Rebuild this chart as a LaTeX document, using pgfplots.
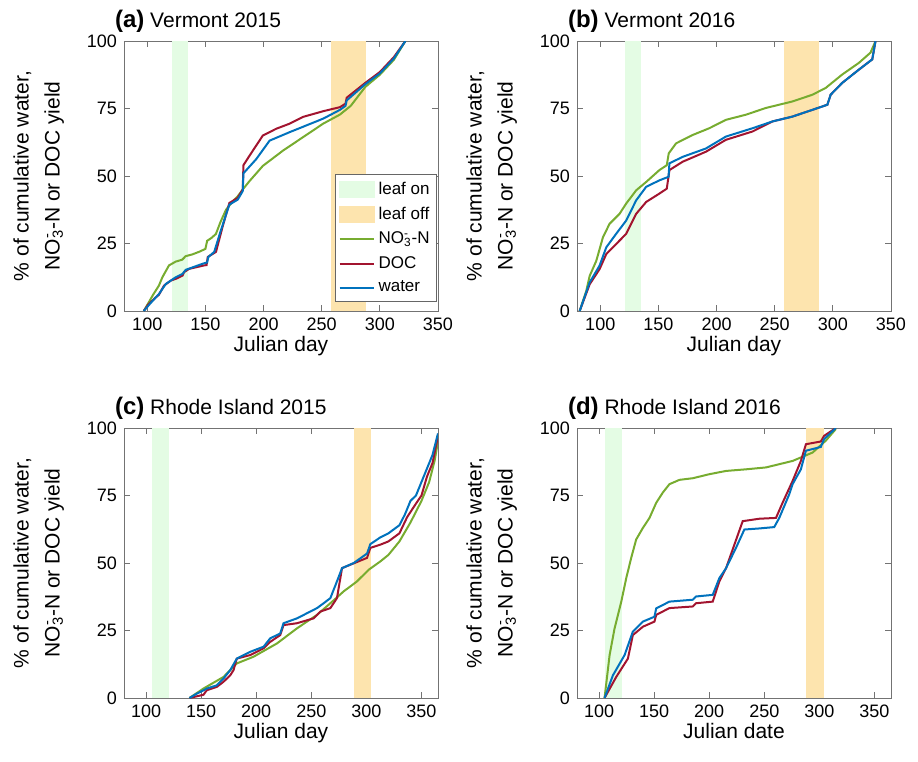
\documentclass[border=0pt]{standalone}
\usepackage{pgfplots}
\pgfplotsset{compat=1.18}
\usepackage{fontspec}
\setmainfont{Liberation Sans}
\definecolor{nogreen}{RGB}{119,172,48}
\definecolor{docred}{RGB}{162,20,47}
\definecolor{waterblue}{RGB}{0,114,189}
\definecolor{leafon}{RGB}{228,252,228}
\definecolor{leafoff}{RGB}{253,228,174}
\newcommand{\NOthree}{NO\rlap{\textsuperscript{-}}\textsubscript{3}-N}
\pgfplotsset{myax/.style={
  scale only axis, width=157pt, height=135pt,
  ymin=0, ymax=100, xmin=80,
  ytick={0,25,50,75,100}, xtick={100,150,...,350},
  tick align=inside, tick pos=both,
  axis line style={black!55}, tick style={black!55, line width=0.4pt},
  major tick length=3pt,
  tick label style={font=\fontsize{9}{10}\selectfont},
  label style={font=\fontsize{10.5}{12}\selectfont},
  /pgf/number format/assume math mode=true,
  ylabel={\% of cumulative water,\\ \NOthree{} or DOC yield},
  ylabel style={align=center, font=\fontsize{10.5}{15.5}\selectfont, at={(axis description cs:-0.272,0.5)}, anchor=center},
  xlabel style={yshift=4pt},
  title style={at={(axis description cs:0,1)}, anchor=base west, xshift=-8pt, yshift=1pt, font=\fontsize{10.5}{12}\selectfont},
  every axis plot/.append style={line width=1pt},
  legend cell align=left,
}}
\begin{document}
\begin{tikzpicture}
\useasboundingbox (0,0) rectangle (459pt,-381pt);
% ---------------- (a)
\begin{axis}[myax, at={(62pt,-20.5pt)}, anchor=north west, xmax=350,
  xlabel={Julian day},
  title={{\fontsize{12}{13}\selectfont\bfseries (a)} Vermont 2015},
  legend style={at={(1,0)}, anchor=south east, xshift=-0.5pt, yshift=4.5pt,
    draw=black!60, font=\fontsize{8.5}{10}\selectfont, inner sep=1.5pt, row sep=0.8pt}]
\addlegendimage{legend image code/.code={\fill[leafon] (0pt,-3.8pt) rectangle (17pt,3.8pt);}}
\addlegendentry{leaf on}
\addlegendimage{legend image code/.code={\fill[leafoff] (0pt,-3.8pt) rectangle (17pt,3.8pt);}}
\addlegendentry{leaf off}
\addlegendimage{legend image code/.code={\draw[nogreen, line width=1pt] (0pt,0pt) -- (17pt,0pt);}}
\addlegendentry{\NOthree}
\addlegendimage{legend image code/.code={\draw[docred, line width=1pt] (0pt,0pt) -- (17pt,0pt);}}
\addlegendentry{DOC}
\addlegendimage{legend image code/.code={\draw[waterblue, line width=1pt] (0pt,0pt) -- (17pt,0pt);}}
\addlegendentry{water}
\addplot[draw=none, fill=leafon, forget plot] coordinates {(121,0) (121,100) (135,100) (135,0)} -- cycle;
\addplot[draw=none, fill=leafoff, forget plot] coordinates {(258,0) (258,100) (288,100) (288,0)} -- cycle;
\addplot[nogreen, forget plot] coordinates {(97,0) (101,3) (105,6) (110,9.4) (113,12.5) (118.7,16.9) (124.5,18.3) (130,19) (133,20.3) (139,21) (145,22) (150,23) (151.5,26) (155,27) (159,28.5) (163,33) (167.7,37.5) (173.5,40.6) (177.8,42.5) (182.1,45) (187.9,48.1) (199.4,53.75) (216.7,59.4) (234,64.4) (251.3,69.4) (265.7,72.75) (275,76) (287.5,83) (300,87.5) (312,93) (322,100)};
\addplot[docred, forget plot] coordinates {(97,0) (101,2.5) (107.2,5) (110,6) (114.4,9.4) (120.2,11.25) (125,12) (130.3,13.1) (131.7,14.4) (136,15.6) (149,16.9) (151,17) (152,20) (159.1,21.9) (164.8,31.25) (170.6,40) (177.8,41.9) (182.1,45) (182.7,54) (187.9,57.5) (199.4,65) (210.9,67.5) (222.5,69.4) (234,71.9) (251.3,74) (265.7,75.5) (270.5,76.8) (271.5,79) (287.5,84.5) (300,88.5) (312,94) (322,100)};
\addplot[waterblue, forget plot] coordinates {(97,0) (103,3) (110,6.25) (115.9,10) (124.5,12.5) (130.3,13.75) (133.1,15.25) (147.6,17.5) (151.5,18) (152.5,20) (157.6,21.9) (163.4,30) (170.6,39.4) (177.8,41.25) (182.1,44.4) (182.7,51) (193.7,56.25) (205.2,63.1) (222.5,66.25) (236.9,68.75) (251.3,71.25) (265.7,74.5) (270.5,76) (271.5,78) (287.5,84) (300,88) (312,93.5) (322,100)};
\end{axis}
% ---------------- (b)
\begin{axis}[myax, at={(288.5pt,-20.5pt)}, anchor=north west, xmax=350,
  xlabel={Julian day},
  title={{\fontsize{12}{13}\selectfont\bfseries (b)} Vermont 2016}]
\addplot[draw=none, fill=leafon] coordinates {(121,0) (121,100) (135,100) (135,0)} -- cycle;
\addplot[draw=none, fill=leafoff] coordinates {(258,0) (258,100) (288,100) (288,0)} -- cycle;
\addplot[nogreen] coordinates {(82.3,0) (88,7.5) (90.9,13) (96.6,18.6) (102.3,27.3) (108,32.3) (116.6,36) (122.3,39.8) (130.9,44.7) (139.5,47.8) (150.9,52.2) (157.2,54) (158.9,58.4) (165.2,62.1) (179.5,65.2) (193.8,67.7) (208,70.8) (225.2,72.7) (242.4,75.2) (265.2,77.6) (282.4,80.1) (293.8,82.6) (308.1,87.6) (322.4,91.9) (332.4,95.7) (336.7,100)};
\addplot[docred] coordinates {(82.3,0) (90.9,9.9) (99.4,15.5) (105.2,21.1) (113.7,24.8) (122.3,28.6) (130.9,36) (139.5,40.4) (150.9,43.5) (157.2,45.3) (159.5,52.2) (170.9,55.3) (190.9,59) (208,63.4) (231,66.5) (248,70.2) (265.2,72) (282.4,74.5) (295.3,76.4) (298.1,80.1) (308.1,84.5) (322.4,89.4) (333.9,93.2) (336.7,100)};
\addplot[waterblue] coordinates {(82.3,0) (90.9,10.6) (99.4,16.8) (105.2,23.6) (113.7,28.6) (122.3,33.5) (130.9,41) (139.5,46) (150.9,48.4) (158.7,49.7) (159.5,54.7) (170.9,57.1) (190.9,60.2) (208,64.6) (231,67.7) (248,70.2) (265.2,72) (282.4,74.5) (295.3,76.4) (298.1,80.1) (308.1,84.5) (322.4,89.4) (333.9,93.2) (336.7,100)};
\end{axis}
% ---------------- (c)
\begin{axis}[myax, at={(62pt,-214pt)}, anchor=north west, xmax=365,
  xlabel={Julian day},
  title={{\fontsize{12}{13}\selectfont\bfseries (c)} Rhode Island 2015}]
\addplot[draw=none, fill=leafon] coordinates {(105,0) (105,100) (121,100) (121,0)} -- cycle;
\addplot[draw=none, fill=leafoff] coordinates {(289,0) (289,100) (304,100) (304,0)} -- cycle;
\addplot[nogreen] coordinates {(139.4,0) (152.1,3.5) (170.3,7.8) (182.4,12.8) (197.6,15.3) (218.8,20.2) (237,25.8) (255.2,30.8) (267.3,35.1) (279.4,39.5) (291.5,43.2) (302.1,47.5) (312.7,50.6) (320,53) (330,58) (340,65) (350,73) (357,80) (362,88) (365,95)};
\addplot[docred] coordinates {(139.4,0) (152.1,1.2) (155.2,2.9) (164.2,4.1) (170.3,6) (176.4,8.4) (179.4,10.3) (182.4,14.6) (194.5,15.9) (206.7,18.4) (212.7,20.8) (221.8,23.3) (224.8,27) (237,27.7) (252.1,29.5) (258.2,32) (267.3,33.3) (273.3,37) (277.9,48.1) (300.6,51.9) (303.6,55.6) (312.7,56.8) (320,58) (330,61) (337,67) (345,72) (350,75) (355,82) (360,87) (365,97)};
\addplot[waterblue] coordinates {(139.4,0) (146.1,1.6) (155.2,3.5) (164.2,4.7) (170.3,7.2) (176.4,10.3) (182.4,14.6) (194.5,17.1) (206.7,19) (212.7,22.1) (221.8,23.9) (224.8,27.7) (237,29.5) (255.2,33.3) (261.2,35.1) (267.3,37) (273.3,43.2) (277.9,48.1) (288.5,50) (300.6,53.5) (303.6,57) (312.7,59.5) (320,61) (330,64) (335,68) (340,73) (345,75) (350,80) (355,85) (360,90) (365,98)};
\end{axis}
% ---------------- (d)
\begin{axis}[myax, at={(288.5pt,-214pt)}, anchor=north west, xmax=365,
  xlabel={Julian date},
  title={{\fontsize{12}{13}\selectfont\bfseries (d)} Rhode Island 2016}]
\addplot[draw=none, fill=leafon] coordinates {(105,0) (105,100) (121,100) (121,0)} -- cycle;
\addplot[draw=none, fill=leafoff] coordinates {(288,0) (288,100) (304,100) (304,0)} -- cycle;
\addplot[nogreen] coordinates {(105,0) (109.6,15.9) (114.1,25.8) (120.2,35.7) (124.7,44.4) (129.2,51.9) (133.7,58.7) (139.8,63) (145.8,66.7) (151.9,72.3) (157.9,76.1) (163.9,79.2) (173,80.8) (185.1,81.4) (200.2,82.9) (215.3,84.1) (233.4,84.7) (251.5,85.4) (263.6,86.6) (275.7,87.8) (283.2,89.1) (293.8,90.9) (305.8,95.3) (314.9,99.6)};
\addplot[docred] coordinates {(105,0) (115.6,7.8) (126.2,14.6) (130.7,23.3) (139.8,26.4) (150.3,28.3) (151.9,30.8) (163.9,33.3) (185.1,33.9) (188.1,35.1) (203.2,35.7) (209.2,43.2) (215.3,48.1) (230.4,65.5) (245.5,66.4) (260.6,66.7) (266.6,72.3) (275.7,80.4) (283.2,87.8) (287.8,94) (301.3,95) (304.3,97.1) (314.9,100)};
\addplot[waterblue] coordinates {(105,0) (112.6,8.4) (123.2,15.9) (130.7,24.6) (139.8,28.3) (150.3,30.1) (151.9,33.2) (163.9,35.7) (185.1,36.4) (188.1,37.6) (203.2,38.2) (209.2,44.4) (215.3,48.1) (224.3,55.6) (231.9,62.4) (245.5,62.8) (259,63.3) (263.6,66.7) (272.6,75.4) (275.7,79.2) (283.2,84.7) (287.8,91.6) (293.8,92.2) (301.3,93) (304.3,95.9) (314.9,100)};
\end{axis}
\end{tikzpicture}
\end{document}
